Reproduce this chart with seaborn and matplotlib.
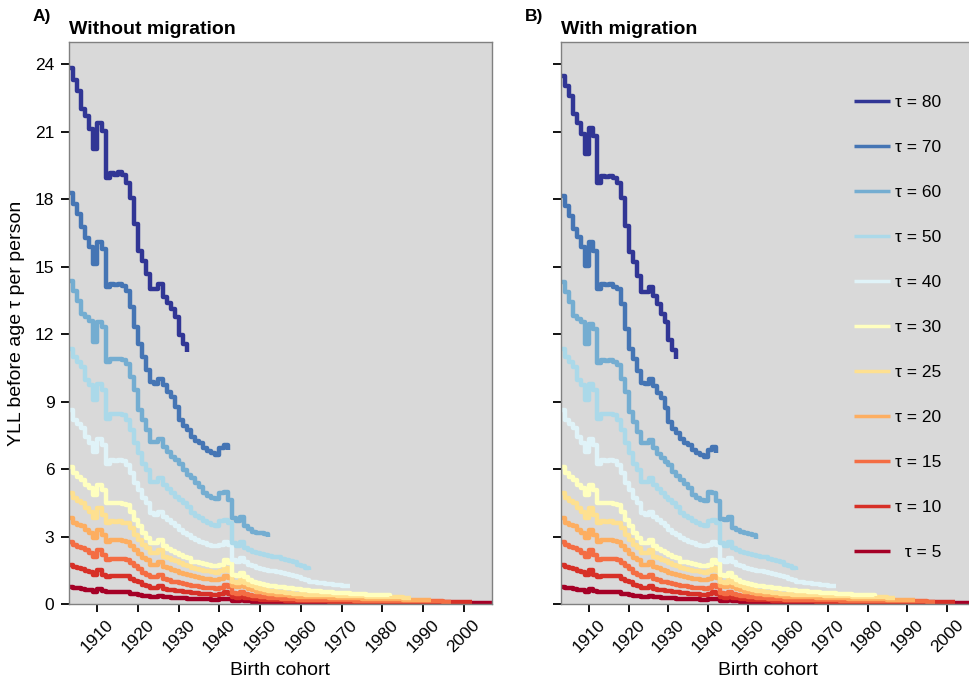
import numpy as np
import pandas as pd
import matplotlib
matplotlib.use("Agg")
import matplotlib.pyplot as plt
from matplotlib.lines import Line2D
import seaborn as sns

# ---------------------------------------------------------------------------
# Data: years of life lost before age tau per person, by birth cohort.
# Every series starts with the 1903 cohort and has one value per cohort year.
# ---------------------------------------------------------------------------
FIRST_COHORT = 1903

taus = [80, 70, 60, 50, 40, 30, 25, 20, 15, 10, 5]
tau_colors = ["#313695", "#4575b4", "#74add1", "#abd9e9", "#e0f3f8", "#ffffbf",
              "#fee090", "#fdae61", "#f46d43", "#d73027", "#a50026"]

x_ticks = [1910, 1920, 1930, 1940, 1950, 1960, 1970, 1980, 1990, 2000]
y_ticks = [0, 3, 6, 9, 12, 15, 18, 21, 24]

# --- without migration -----------------------------------------------------
no_mig_80 = [23.85, 23.33, 22.82, 22.00, 21.71, 21.11, 20.23, 21.41, 21.04, 18.97,
             19.17, 19.10, 19.20, 19.10, 18.75, 18.08, 16.90, 15.72, 15.27, 14.68,
             14.02, 14.02, 14.24, 13.65, 13.40, 13.13, 12.76, 11.95, 11.58, 11.21]

no_mig_70 = [18.30, 17.79, 17.34, 16.75, 16.30, 15.87, 15.13, 16.09, 15.79, 14.09,
             14.24, 14.20, 14.24, 14.15, 13.94, 13.20, 12.32, 11.58, 10.99, 10.40,
             9.88, 9.80, 10.03, 9.73, 9.45, 9.21, 8.77, 8.18, 7.90, 7.73,
             7.44, 7.25, 7.14, 6.92, 6.80, 6.70, 6.62, 6.92, 7.07, 6.85]

no_mig_60 = [14.39, 13.94, 13.50, 12.91, 12.75, 12.61, 11.65, 12.54, 12.32, 10.76,
             10.91, 10.90, 10.91, 10.85, 10.69, 10.10, 9.50, 8.62, 8.18, 7.73,
             7.22, 7.22, 7.36, 7.00, 6.75, 6.55, 6.40, 6.25, 5.96, 5.75,
             5.59, 5.40, 5.22, 4.92, 4.80, 4.70, 4.66, 4.92, 5.00, 4.63,
             3.81, 3.67, 3.89, 3.45, 3.35, 3.22, 3.18, 3.14, 3.10, 2.97]

yll_50 = [11.36, 10.99, 10.75, 10.54, 9.95, 9.73, 9.06, 9.80, 9.50, 8.25,
          8.47, 8.45, 8.47, 8.40, 8.18, 7.73, 7.14, 6.70, 6.25, 5.96,
          5.44, 5.44, 5.59, 5.29, 5.10, 4.92, 4.78, 4.63, 4.48, 4.33,
          4.04, 3.92, 3.81, 3.70, 3.59, 3.50, 3.45, 3.67, 3.74, 3.59,
          2.71, 2.56, 2.78, 2.50, 2.41, 2.33, 2.26, 2.22, 2.17, 2.14,
          2.11, 2.07, 2.02, 1.97, 1.92, 1.85, 1.75, 1.67, 1.60, 1.52]

yll_40 = [8.62, 8.18, 8.00, 7.81, 7.44, 7.14, 6.77, 7.36, 7.07, 6.25,
          6.40, 6.38, 6.40, 6.35, 6.18, 5.81, 5.37, 5.07, 4.70, 4.48,
          4.04, 3.96, 4.11, 3.89, 3.74, 3.59, 3.45, 3.30, 3.18, 3.07,
          2.93, 2.85, 2.78, 2.70, 2.63, 2.59, 2.56, 2.63, 2.78, 2.63,
          1.97, 1.89, 2.04, 1.85, 1.74, 1.68, 1.60, 1.56, 1.52, 1.48,
          1.45, 1.41, 1.37, 1.34, 1.30, 1.25, 1.18, 1.12, 1.06, 1.00,
          0.98, 0.95, 0.93, 0.90, 0.88, 0.86, 0.84, 0.82, 0.80, 0.78]

yll_30 = [6.11, 5.81, 5.67, 5.52, 5.29, 5.15, 4.85, 5.29, 5.07, 4.48,
          4.50, 4.48, 4.50, 4.45, 4.40, 4.11, 3.74, 3.45, 3.15, 2.93,
          2.71, 2.71, 2.85, 2.56, 2.45, 2.34, 2.26, 2.19, 2.10, 2.04,
          1.89, 1.85, 1.82, 1.78, 1.74, 1.70, 1.67, 1.74, 1.97, 1.82,
          1.30, 1.23, 1.37, 1.18, 1.08, 1.00, 0.93, 0.88, 0.84, 0.80,
          0.78, 0.76, 0.74, 0.72, 0.70, 0.68, 0.66, 0.64, 0.62, 0.60,
          0.58, 0.56, 0.55, 0.53, 0.52, 0.50, 0.49, 0.48, 0.47, 0.46,
          0.45, 0.44, 0.43, 0.42, 0.41, 0.40, 0.39, 0.38, 0.38, 0.37]

yll_25 = [4.92, 4.70, 4.60, 4.48, 4.26, 4.11, 3.81, 4.26, 3.96, 3.59,
          3.67, 3.65, 3.67, 3.62, 3.59, 3.37, 3.07, 2.85, 2.63, 2.48,
          2.26, 2.26, 2.41, 2.11, 2.04, 1.97, 1.90, 1.82, 1.75, 1.67,
          1.60, 1.56, 1.52, 1.48, 1.45, 1.41, 1.37, 1.45, 1.60, 1.45,
          1.00, 0.93, 1.08, 0.94, 0.86, 0.78, 0.71, 0.67, 0.63, 0.59,
          0.56, 0.54, 0.52, 0.50, 0.48, 0.46, 0.44, 0.43, 0.42, 0.41,
          0.40, 0.40, 0.39, 0.39, 0.38, 0.38, 0.37, 0.37, 0.36, 0.35,
          0.35, 0.34, 0.34, 0.33, 0.33, 0.32, 0.32, 0.31, 0.31, 0.30,
          0.30, 0.29, 0.28, 0.28, 0.27]

yll_20 = [3.81, 3.59, 3.52, 3.45, 3.30, 3.15, 2.93, 3.30, 3.07, 2.78,
          2.85, 2.83, 2.85, 2.80, 2.78, 2.59, 2.41, 2.23, 2.04, 1.94,
          1.74, 1.74, 1.89, 1.64, 1.58, 1.52, 1.46, 1.40, 1.35, 1.30,
          1.23, 1.19, 1.15, 1.13, 1.11, 1.08, 1.05, 1.11, 1.26, 1.15,
          0.78, 0.74, 0.86, 0.74, 0.67, 0.61, 0.55, 0.52, 0.49, 0.46,
          0.44, 0.42, 0.40, 0.38, 0.36, 0.34, 0.33, 0.32, 0.31, 0.31,
          0.30, 0.30, 0.29, 0.29, 0.28, 0.28, 0.27, 0.27, 0.26, 0.26,
          0.25, 0.25, 0.24, 0.24, 0.23, 0.23, 0.22, 0.22, 0.22, 0.21,
          0.21, 0.21, 0.20, 0.20, 0.20, 0.20, 0.19, 0.19, 0.19, 0.19]

yll_15 = [2.78, 2.63, 2.55, 2.48, 2.38, 2.29, 2.11, 2.41, 2.19, 1.97,
          2.01, 2.00, 2.01, 1.98, 1.97, 1.82, 1.67, 1.55, 1.40, 1.30,
          1.20, 1.20, 1.30, 1.11, 1.05, 1.00, 0.96, 0.93, 0.90, 0.86,
          0.81, 0.78, 0.75, 0.73, 0.71, 0.69, 0.68, 0.72, 0.86, 0.75,
          0.49, 0.46, 0.55, 0.46, 0.41, 0.37, 0.34, 0.31, 0.29, 0.27,
          0.26, 0.25, 0.24, 0.23, 0.22, 0.21, 0.20, 0.20, 0.19, 0.19,
          0.18, 0.18, 0.18, 0.17, 0.17, 0.17, 0.16, 0.16, 0.16, 0.16,
          0.15, 0.15, 0.15, 0.15, 0.14, 0.14, 0.14, 0.14, 0.14, 0.13,
          0.13, 0.13, 0.13, 0.13, 0.13, 0.12, 0.12, 0.12, 0.12, 0.12,
          0.12, 0.12, 0.11, 0.11, 0.11]

yll_10 = [1.74, 1.64, 1.60, 1.55, 1.49, 1.42, 1.30, 1.52, 1.30, 1.20,
          1.26, 1.25, 1.26, 1.24, 1.23, 1.12, 1.03, 0.96, 0.86, 0.78,
          0.71, 0.71, 0.78, 0.67, 0.64, 0.61, 0.58, 0.56, 0.54, 0.52,
          0.49, 0.47, 0.46, 0.45, 0.43, 0.42, 0.41, 0.44, 0.52, 0.46,
          0.30, 0.28, 0.34, 0.28, 0.25, 0.23, 0.21, 0.20, 0.19, 0.18,
          0.17, 0.16, 0.16, 0.15, 0.15, 0.14, 0.14, 0.13, 0.13, 0.13,
          0.12, 0.12, 0.12, 0.12, 0.11, 0.11, 0.11, 0.11, 0.11, 0.10,
          0.10, 0.10, 0.10, 0.10, 0.10, 0.09, 0.09, 0.09, 0.09, 0.09,
          0.09, 0.09, 0.09, 0.09, 0.08, 0.08, 0.08, 0.08, 0.08, 0.08,
          0.08, 0.08, 0.08, 0.08, 0.08, 0.07, 0.07, 0.07, 0.07, 0.07]

yll_5 = [0.75, 0.71, 0.69, 0.67, 0.64, 0.61, 0.55, 0.67, 0.56, 0.52,
         0.53, 0.53, 0.53, 0.52, 0.52, 0.46, 0.43, 0.40, 0.37, 0.35,
         0.33, 0.33, 0.36, 0.31, 0.29, 0.28, 0.27, 0.26, 0.25, 0.24,
         0.23, 0.22, 0.22, 0.21, 0.21, 0.20, 0.20, 0.21, 0.24, 0.22,
         0.15, 0.14, 0.17, 0.13, 0.12, 0.11, 0.10, 0.10, 0.09, 0.09,
         0.09, 0.08, 0.08, 0.08, 0.08, 0.07, 0.07, 0.07, 0.07, 0.07,
         0.07, 0.06, 0.06, 0.06, 0.06, 0.06, 0.06, 0.06, 0.06, 0.05,
         0.05, 0.05, 0.05, 0.05, 0.05, 0.05, 0.05, 0.05, 0.05, 0.05,
         0.05, 0.05, 0.04, 0.04, 0.04, 0.04, 0.04, 0.04, 0.04, 0.04,
         0.04, 0.04, 0.04, 0.04, 0.04, 0.04, 0.04, 0.04, 0.04, 0.04,
         0.04, 0.04, 0.04, 0.04, 0.04]

# --- with migration (tau <= 50: same values in both scenarios) --------------
mig_80 = [23.48, 23.04, 22.60, 21.78, 21.41, 20.90, 20.00, 21.19, 20.82, 18.75,
          19.05, 19.00, 19.05, 18.95, 18.75, 18.08, 16.83, 15.64, 15.20, 14.61,
          13.87, 13.87, 14.09, 13.72, 13.35, 12.90, 12.54, 11.73, 11.28, 10.91]

mig_70 = [18.16, 17.72, 17.27, 16.68, 16.31, 15.87, 15.05, 16.09, 15.72, 14.02,
          14.24, 14.18, 14.24, 14.10, 14.02, 13.35, 12.24, 11.36, 10.90, 10.35,
          9.85, 9.78, 10.00, 9.70, 9.40, 9.15, 8.70, 8.10, 7.80, 7.60,
          7.36, 7.18, 7.07, 6.85, 6.72, 6.62, 6.55, 6.85, 6.99, 6.73]

mig_60 = [14.31, 13.86, 13.42, 12.83, 12.67, 12.53, 11.57, 12.46, 12.24, 10.70,
          10.84, 10.83, 10.84, 10.78, 10.62, 10.03, 9.43, 8.55, 8.11, 7.66,
          7.15, 7.15, 7.29, 6.93, 6.68, 6.48, 6.33, 6.18, 5.89, 5.68,
          5.52, 5.33, 5.15, 4.85, 4.73, 4.63, 4.60, 5.00, 4.92, 4.60,
          3.80, 3.74, 3.89, 3.40, 3.30, 3.20, 3.15, 3.10, 3.07, 2.88]

shared = [yll_50, yll_40, yll_30, yll_25, yll_20, yll_15, yll_10, yll_5]
without_migration = [no_mig_80, no_mig_70, no_mig_60] + shared
with_migration = [mig_80, mig_70, mig_60] + shared


def long_table(series_list):
    frames = []
    for tau, values in zip(taus, series_list):
        cohorts = np.arange(FIRST_COHORT, FIRST_COHORT + len(values))
        frames.append(pd.DataFrame({"cohort": cohorts, "yll": values, "tau": tau}))
    return pd.concat(frames, ignore_index=True)


# ---------------------------------------------------------------------------
# Figure
# ---------------------------------------------------------------------------
sns.set_theme(style="ticks")
plt.rcParams["font.family"] = ["Liberation Sans", "DejaVu Sans"]
plt.rcParams.update({
    "text.color": "black",
    "axes.labelcolor": "black",
    "xtick.color": "black",
    "ytick.color": "black",
})

W, H = 969, 685
fig = plt.figure(figsize=(W / 100, H / 100), dpi=100)
fig.patch.set_facecolor("white")

ax_a = fig.add_axes([69 / W, (H - 604) / H, 423 / W, 562 / H])
ax_b = fig.add_axes([561 / W, (H - 604) / H, 414 / W, 562 / H])

palette = dict(zip(taus, tau_colors))
draw_order = taus[::-1]  # small tau first, so larger tau sits on top

for ax, series in ((ax_a, without_migration), (ax_b, with_migration)):
    df = long_table(series)
    sns.lineplot(data=df, x="cohort", y="yll", hue="tau", hue_order=draw_order,
                 palette=palette, estimator=None, sort=True, legend=False,
                 drawstyle="steps-post", linewidth=3.2, solid_capstyle="butt",
                 ax=ax)
    ax.set_facecolor("#d9d9d9")
    for spine in ax.spines.values():
        spine.set_color("#808080")
        spine.set_linewidth(1.0)
    ax.set_xlim(1903, 2007)
    ax.set_ylim(0, 25)
    ax.set_xticks(x_ticks)
    ax.set_yticks(y_ticks)
    ax.set_xticklabels([str(t) for t in x_ticks], rotation=45,
                       ha="center", va="top")
    ax.tick_params(axis="both", direction="out", length=5.5, width=1.3,
                   color="black", labelsize=12.5, labelcolor="black")
    ax.tick_params(axis="x", pad=4)
    ax.tick_params(axis="y", pad=5)
    ax.set_xlabel("Birth cohort", fontsize=14, labelpad=5)
    ax.grid(False)

ax_a.set_ylabel("YLL before age τ per person", fontsize=14, labelpad=7)
ax_b.set_ylabel("")
ax_b.tick_params(axis="y", labelleft=False)

# Panel tags and titles
fig.text(33 / W, 1 - 21 / H, "A)", fontsize=12.5, fontweight="bold",
         ha="left", va="baseline")
fig.text(69 / W, 1 - 34 / H, "Without migration", fontsize=14,
         fontweight="bold", ha="left", va="baseline")
fig.text(525 / W, 1 - 21 / H, "B)", fontsize=12.5, fontweight="bold",
         ha="left", va="baseline")
fig.text(561 / W, 1 - 34 / H, "With migration", fontsize=14,
         fontweight="bold", ha="left", va="baseline")

# Legend inside panel B
handles = [Line2D([], [], color=c, lw=2.5, solid_capstyle="butt")
           for c in tau_colors]
labels = [f"τ = {t}" for t in taus]
labels[-1] = "  τ = 5"
ax_b.legend(handles, labels, loc="upper left",
            bbox_to_anchor=(854 / W, 1 - 95 / H),
            bbox_transform=fig.transFigure, frameon=False, borderpad=0,
            borderaxespad=0, handlelength=2.1, handletextpad=0.25,
            labelspacing=1.72, fontsize=12.5)

fig.savefig("out.png", dpi=100)
